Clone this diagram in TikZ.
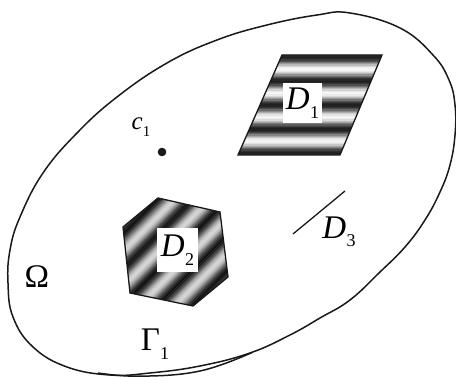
\documentclass[tikz,border=0pt]{standalone}
\usepackage{fontspec}
\setmainfont{Liberation Serif}
\newcommand{\mylbl}[3]{#1\kern0.01em\raisebox{-0.26em}{\fontsize{#3}{#3}\selectfont #2}}
\begin{document}
\begin{tikzpicture}[x=1pt,y=1pt]
\tikzset{
  outline/.style={line width=1.5pt, black!90},
  shapeline/.style={line width=1.3pt, black!90},
  biglab/.style={font=\fontsize{33}{33}\selectfont, inner sep=0pt},
  smalllab/.style={font=\fontsize{25}{25}\selectfont, inner sep=0pt},
  labbox/.style={fill=white, inner sep=0pt, font=\fontsize{33}{33}\selectfont},
}
\useasboundingbox (0,0) rectangle (456,377);
% outer domain Omega
\draw[outline] plot[smooth cycle, tension=0.7] coordinates {
 (350,364) (400,349) (433,322) (449,297) (455,272) (455,242) (450,212)
 (440,185) (425,157) (405,130) (380,105) (350,77) (320,59) (290,42)
 (250,24) (200,11) (150,4) (110,2) (67,10) (33,30) (13,60) (8,94)
 (10,127) (20,160) (43,204) (77,244) (117,280) (167,314) (217,337)
 (267,352) (317,362)};
% thin sliver at the bottom
\draw[outline] plot[smooth, tension=0.7] coordinates {(98,4) (140,0.8) (200,6) (252,24.5)};
% D1 parallelogram, horizontal stripes
\begin{scope}
  \clip (282,322) -- (382,322) -- (340,222) -- (238,222) -- cycle;
  \foreach \i in {0,...,84} {
    \pgfmathsetmacro{\yy}{220+\i*1.25}
    \pgfmathtruncatemacro{\dd}{46+42*cos(15*(\yy-223))}
    \fill[black!\dd] (230,\yy) rectangle (390,\yy+1.4);
  }
\end{scope}
\draw[shapeline] (282,322) -- (382,322) -- (340,222) -- (238,222) -- cycle;
\node[labbox, minimum width=39pt, minimum height=40pt] (D1) at (302.5,274) {\mylbl{\textit{D}}{1}{18}};
% D2 hexagon, diagonal stripes
\begin{scope}
  \clip (158,179) -- (220,165) -- (228,100) -- (193,71) -- (130,84) -- (123,150) -- cycle;
  \begin{scope}[rotate around={45:(176,125)}]
    \foreach \i in {0,...,140} {
      \pgfmathsetmacro{\yy}{50+\i*1.1}
      \pgfmathtruncatemacro{\dd}{55+38*cos(14.4*(\yy-125))}
      \fill[black!\dd] (90,\yy) rectangle (262,\yy+1.3);
    }
  \end{scope}
\end{scope}
\draw[shapeline] (158,179) -- (220,165) -- (228,100) -- (193,71) -- (130,84) -- (123,150) -- cycle;
\node[labbox, minimum width=41pt, minimum height=44pt] (D2) at (177.5,127) {\mylbl{\textit{D}}{2}{18}};
% c1 point
\fill[black!90] (162,225) circle (4.3);
\node[smalllab] (c1) at (141,250) {\mylbl{\textit{c}}{1}{15}};
% D3 segment
\coordinate (d3a) at (345,186);
\coordinate (d3b) at (293,143);
\draw[shapeline] (d3a) -- (d3b);
\node[biglab] (D3) at (339,145) {\mylbl{\textit{D}}{3}{18}};
% labels
\node[biglab] (Om) at (37,100) {Ω};
\node[biglab] (G1) at (155,33) {\mylbl{Γ}{1}{18}};
\end{tikzpicture}
\end{document}
